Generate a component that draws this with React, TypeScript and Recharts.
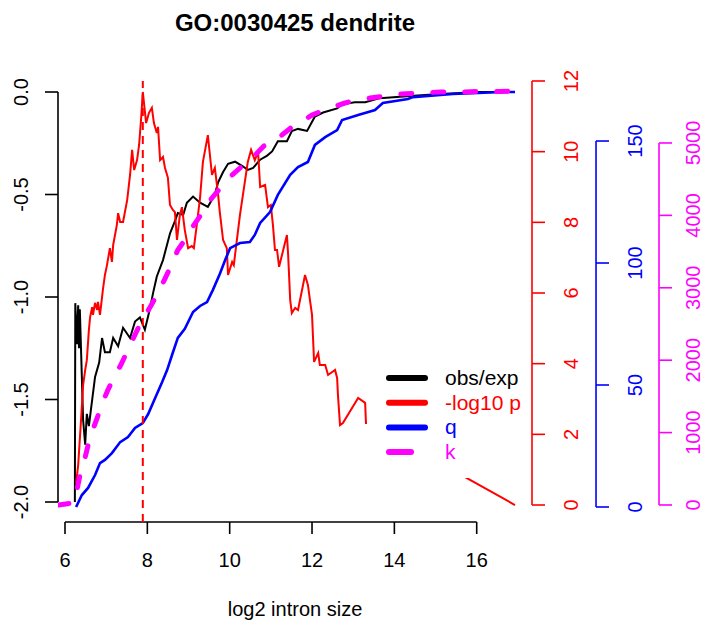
import { LineChart, Line, XAxis, YAxis, ReferenceLine, Legend } from 'recharts'

const FONT = '"Liberation Sans", Arial, Helvetica, sans-serif'

// obs/exp (left axis)
const OBS_X = [6.24, 6.25, 6.29, 6.32, 6.34, 6.36, 6.39, 6.44, 6.49, 6.53, 6.58, 6.63, 6.73, 6.83, 6.9, 6.97, 7.09, 7.17, 7.29, 7.41, 7.58, 7.7, 7.82, 7.94, 8.06, 8.14, 8.23, 8.38, 8.55, 8.67, 8.74, 8.87, 8.96, 9.11, 9.28, 9.47, 9.64, 9.72, 9.84, 9.96, 10.13, 10.3, 10.44, 10.57, 10.74, 10.91, 11.03, 11.17, 11.39, 11.51, 11.66, 11.88, 12.07, 12.27, 12.61, 12.73, 13.04, 13.29, 13.65, 14.38, 15.11, 16.08, 16.93]
const OBS_Y = [-2.0, -1.03, -1.23, -1.04, -1.25, -1.06, -1.26, -1.6, -1.72, -1.57, -1.63, -1.55, -1.39, -1.32, -1.2, -1.27, -1.27, -1.2, -1.24, -1.15, -1.2, -1.12, -1.1, -1.16, -1.06, -0.98, -0.9, -0.82, -0.69, -0.63, -0.59, -0.6, -0.54, -0.51, -0.54, -0.56, -0.5, -0.44, -0.39, -0.35, -0.34, -0.36, -0.38, -0.37, -0.33, -0.31, -0.29, -0.24, -0.24, -0.19, -0.18, -0.19, -0.12, -0.1, -0.08, -0.06, -0.05, -0.05, -0.03, -0.02, -0.01, 0.0, 0.0]

// -log10 p (red axis)
const LOGP_X = [6.27, 6.32, 6.39, 6.44, 6.49, 6.53, 6.58, 6.61, 6.66, 6.68, 6.73, 6.78, 6.8, 6.85, 6.92, 6.97, 7.02, 7.09, 7.14, 7.17, 7.26, 7.29, 7.34, 7.41, 7.51, 7.58, 7.63, 7.68, 7.75, 7.8, 7.85, 7.89, 7.97, 8.04, 8.11, 8.16, 8.23, 8.26, 8.31, 8.38, 8.43, 8.5, 8.55, 8.62, 8.67, 8.72, 8.79, 8.84, 8.91, 8.99, 9.08, 9.13, 9.21, 9.28, 9.35, 9.47, 9.57, 9.64, 9.72, 9.76, 9.84, 9.93, 9.96, 10.06, 10.1, 10.25, 10.44, 10.52, 10.61, 10.69, 10.74, 10.86, 10.93, 11.0, 11.05, 11.1, 11.15, 11.2, 11.39, 11.42, 11.47, 11.51, 11.59, 11.66, 11.83, 11.9, 11.95, 12.0, 12.05, 12.15, 12.19, 12.32, 12.39, 12.56, 12.61, 12.63, 12.68, 12.75, 13.12, 13.29, 13.31, 13.36, 16.93]
const LOGP_Y = [0.62, 1.13, 2.41, 3.4, 3.82, 4.1, 4.95, 5.32, 5.6, 5.38, 5.72, 5.52, 5.75, 5.38, 6.09, 6.51, 6.79, 7.27, 6.88, 7.36, 7.93, 8.26, 8.01, 8.01, 8.63, 9.34, 10.05, 9.48, 9.76, 10.19, 10.95, 11.69, 10.81, 11.1, 11.24, 10.81, 10.53, 10.7, 9.76, 9.85, 9.54, 9.26, 8.49, 8.35, 8.29, 7.5, 8.21, 8.43, 7.78, 7.27, 7.33, 7.27, 8.01, 8.69, 9.71, 10.47, 9.34, 9.54, 8.77, 8.29, 7.5, 7.27, 6.51, 6.88, 6.79, 8.21, 9.71, 10.05, 9.76, 9.99, 9.0, 9.06, 8.43, 8.49, 7.93, 7.22, 7.22, 6.74, 7.64, 7.08, 5.8, 5.43, 5.58, 5.52, 6.51, 6.23, 5.8, 5.38, 4.05, 4.3, 3.96, 3.96, 3.68, 3.82, 3.59, 3.11, 2.26, 2.32, 3.03, 2.89, 2.32, 2.32, 0.0]

// q (blue axis)
const Q_X = [6.27, 6.41, 6.56, 6.73, 6.85, 6.97, 7.14, 7.34, 7.53, 7.7, 7.89, 8.02, 8.19, 8.36, 8.48, 8.6, 8.74, 8.91, 9.11, 9.28, 9.45, 9.59, 9.76, 9.89, 10.01, 10.25, 10.49, 10.61, 10.74, 10.98, 11.17, 11.47, 11.66, 11.9, 12.07, 12.32, 12.61, 12.73, 13.12, 13.53, 13.72, 14.33, 14.45, 15.42, 16.64, 16.93]
const Q_Y = [0, 4.9, 7.8, 13.1, 18.0, 19.3, 22.1, 26.6, 28.7, 32.4, 34.4, 38.1, 44.7, 51.2, 56.1, 62.3, 69.3, 73.0, 79.9, 82.4, 84.0, 88.9, 95.5, 101.2, 106.1, 108.2, 108.6, 111.5, 116.4, 120.9, 127.9, 136.1, 139.3, 141.4, 148.4, 151.6, 154.5, 158.6, 160.7, 162.7, 165.6, 167.2, 168.0, 169.3, 170.1, 170.1]

// k (magenta axis)
const K_X = [5.83, 6.02, 6.22, 6.29, 6.39, 6.49, 6.61, 6.78, 6.92, 7.04, 7.21, 7.38, 7.58, 7.72, 7.87, 8.07, 8.23, 8.4, 8.55, 8.74, 8.91, 9.08, 9.28, 9.47, 9.67, 9.86, 10.06, 10.25, 10.44, 10.64, 10.83, 11.03, 11.27, 11.51, 11.76, 12.0, 12.24, 12.51, 12.8, 13.09, 13.41, 13.77, 14.14, 14.62, 15.11, 15.59, 16.08, 16.57, 16.93]
const K_Y = [0, 14, 28, 207, 483, 663, 939, 1201, 1422, 1588, 1781, 1961, 2210, 2375, 2555, 2734, 2900, 3093, 3273, 3522, 3660, 3825, 3991, 4171, 4309, 4433, 4557, 4654, 4764, 4847, 4958, 5027, 5110, 5220, 5303, 5386, 5441, 5496, 5552, 5593, 5621, 5648, 5676, 5690, 5704, 5704, 5711, 5711, 5717]

const X_TICKS = [6, 8, 10, 12, 14, 16]
const OBS_TICKS = [-2, -1.5, -1, -0.5, 0]
const LOGP_TICKS = [0, 2, 4, 6, 8, 10, 12]
const Q_TICKS = [0, 50, 100, 150]
const K_TICKS = [0, 1000, 2000, 3000, 4000, 5000]
const PEAK_X = 7.89

const LEGEND_LABELS = ['obs/exp', '-log10 p', 'q', 'k']
const LEGEND_COLORS = ['#000000', '#FF0000', '#0000FF', '#FF00FF']

// axis extents (R draws the axis line only between first and last tick)
const X_DOMAIN: [number, number] = [5.83, 17.343]
const OBS_DOMAIN: [number, number] = [-2.0976, 0.0537]
const LOGP_DOMAIN: [number, number] = [-0.481, 12]
const Q_DOMAIN: [number, number] = [-6.15, 174.6]
const K_DOMAIN: [number, number] = [-235, 5856]
const Q_AXIS_AT = 18.898
const K_AXIS_AT = 20.428

// ids sort in the order the right-hand axes stack outward
const ID_OBS = 'a_obs'
const ID_LOGP = 'b_logp'
const ID_Q = 'c_q'
const ID_K = 'd_k'

const zip = (xs: number[], ys: number[]) => xs.map((x, i) => ({ x, y: ys[i] }))

function SideTick(props: any) {
  const { x, y, payload, color, digits } = props
  const text = digits ? Number(payload.value).toFixed(digits) : String(payload.value)
  return (
    <text x={x} y={y} transform={`rotate(-90 ${x} ${y})`} textAnchor="middle" fill={color} fontSize={20} fontFamily={FONT}>
      {text}
    </text>
  )
}

function LegendBox() {
  return (
    <svg width={160} height={113} style={{ display: 'block' }}>
      {LEGEND_LABELS.map((label, i) => {
        const y = 13 + i * 24.7
        return (
          <g key={label}>
            <line x1={22} x2={i === 3 ? 44 : 58} y1={y} y2={y} stroke={LEGEND_COLORS[i]} strokeWidth={6} strokeLinecap="round" />
            <text x={78} y={y + 7} fill={LEGEND_COLORS[i]} fontSize={21} fontFamily={FONT}>{label}</text>
          </g>
        )
      })}
    </svg>
  )
}

export default function App() {
  const axisStroke = { strokeWidth: 1.6 }
  return (
    <div style={{ position: 'absolute', left: 0, top: 0, width: 705, height: 634, background: '#fff' }}>
      <LineChart width={705} height={634} margin={{ top: 81, right: 0, bottom: 0, left: 0 }}>
        <XAxis
          type="number" dataKey="x" domain={X_DOMAIN} ticks={X_TICKS} allowDataOverflow interval={0}
          axisLine={false} tickSize={12} tickMargin={19} height={112}
          tickLine={{ stroke: '#000', ...axisStroke }}
          tick={{ fill: '#000', fontSize: 20, fontFamily: FONT }}
          label={{ value: 'log2 intron size', position: 'insideBottom', offset: 18, fill: '#000', fontSize: 20, fontFamily: FONT }}
        />
        <YAxis yAxisId={ID_OBS} orientation="left" width={58} domain={OBS_DOMAIN} ticks={OBS_TICKS} allowDataOverflow interval={0}
          axisLine={false} tickSize={13} tickMargin={17} tickLine={{ stroke: '#000', ...axisStroke }}
          tick={(p: any) => <SideTick {...p} color="#000" digits={1} />} />
        <YAxis yAxisId={ID_LOGP} orientation="right" width={64} domain={LOGP_DOMAIN} ticks={LOGP_TICKS} allowDataOverflow interval={0}
          axisLine={false} tickSize={13} tickMargin={33} tickLine={{ stroke: '#FF0000', ...axisStroke }}
          tick={(p: any) => <SideTick {...p} color="#FF0000" />} />
        <YAxis yAxisId={ID_Q} orientation="right" width={63} domain={Q_DOMAIN} ticks={Q_TICKS} allowDataOverflow interval={0}
          axisLine={false} tickSize={13} tickMargin={33} tickLine={{ stroke: '#0000FF', ...axisStroke }}
          tick={(p: any) => <SideTick {...p} color="#0000FF" />} />
        <YAxis yAxisId={ID_K} orientation="right" width={46} domain={K_DOMAIN} ticks={K_TICKS} allowDataOverflow interval={0}
          axisLine={false} tickSize={13} tickMargin={28} tickLine={{ stroke: '#FF00FF', ...axisStroke }}
          tick={(p: any) => <SideTick {...p} color="#FF00FF" />} />

        <ReferenceLine yAxisId={ID_OBS} ifOverflow="visible" stroke="#000" {...axisStroke}
          segment={[{ x: X_TICKS[0], y: OBS_DOMAIN[0] }, { x: X_TICKS[X_TICKS.length - 1], y: OBS_DOMAIN[0] }]} />
        <ReferenceLine yAxisId={ID_OBS} ifOverflow="visible" stroke="#000" {...axisStroke}
          segment={[{ x: X_DOMAIN[0], y: OBS_TICKS[0] }, { x: X_DOMAIN[0], y: OBS_TICKS[OBS_TICKS.length - 1] }]} />
        <ReferenceLine yAxisId={ID_LOGP} ifOverflow="visible" stroke="#FF0000" {...axisStroke}
          segment={[{ x: X_DOMAIN[1], y: LOGP_TICKS[0] }, { x: X_DOMAIN[1], y: LOGP_TICKS[LOGP_TICKS.length - 1] }]} />
        <ReferenceLine yAxisId={ID_Q} ifOverflow="visible" stroke="#0000FF" {...axisStroke}
          segment={[{ x: Q_AXIS_AT, y: Q_TICKS[0] }, { x: Q_AXIS_AT, y: Q_TICKS[Q_TICKS.length - 1] }]} />
        <ReferenceLine yAxisId={ID_K} ifOverflow="visible" stroke="#FF00FF" {...axisStroke}
          segment={[{ x: K_AXIS_AT, y: K_TICKS[0] }, { x: K_AXIS_AT, y: K_TICKS[K_TICKS.length - 1] }]} />

        <Line yAxisId={ID_OBS} data={zip(OBS_X, OBS_Y)} dataKey="y" type="linear" stroke="#000000" strokeWidth={2} dot={false} activeDot={false} isAnimationActive={false} />
        <Line yAxisId={ID_LOGP} data={zip(LOGP_X, LOGP_Y)} dataKey="y" type="linear" stroke="#FF0000" strokeWidth={2} dot={false} activeDot={false} isAnimationActive={false} />
        <Line yAxisId={ID_Q} data={zip(Q_X, Q_Y)} dataKey="y" type="linear" stroke="#0000FF" strokeWidth={2.6} dot={false} activeDot={false} isAnimationActive={false} />
        <Line yAxisId={ID_K} data={zip(K_X, K_Y)} dataKey="y" type="linear" stroke="#FF00FF" strokeWidth={5} strokeDasharray="11 21" strokeLinecap="round" dot={false} activeDot={false} isAnimationActive={false} />

        <ReferenceLine yAxisId={ID_LOGP} x={PEAK_X} stroke="#FF0000" strokeWidth={2} strokeDasharray="8 6" ifOverflow="visible" />

        <Legend
          verticalAlign="middle" align="center" layout="horizontal"
          wrapperStyle={{ left: 367, top: 365, width: 160, height: 113, background: '#fff', margin: 0, padding: 0, lineHeight: 0 }}
          content={() => <LegendBox />}
        />
      </LineChart>
      <svg width={705} height={50} style={{ position: 'absolute', left: 0, top: 0, pointerEvents: 'none' }}>
        <text x={295} y={31} textAnchor="middle" fontSize={24} fontWeight="bold" fontFamily={FONT} fill="#000">
          GO:0030425 dendrite
        </text>
      </svg>
    </div>
  )
}
